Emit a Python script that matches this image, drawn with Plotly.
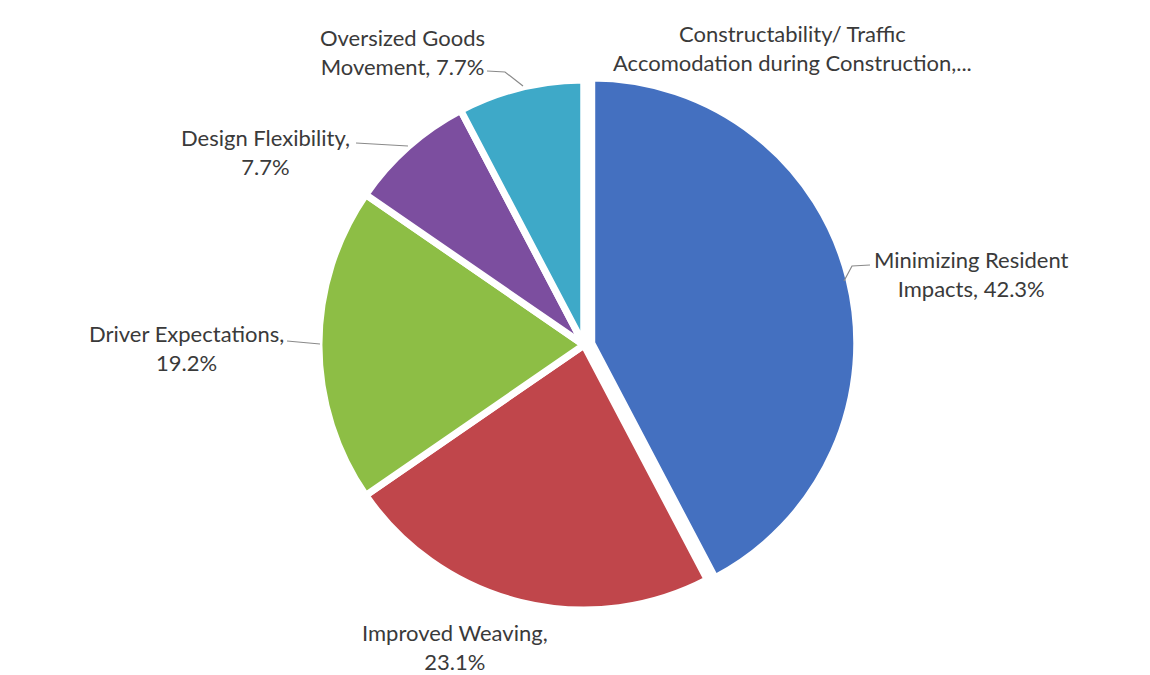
import plotly.graph_objects as go

# Survey categories and their shares (%)
categories = [
    "Minimizing Resident Impacts",
    "Improved Weaving",
    "Driver Expectations",
    "Design Flexibility",
    "Oversized Goods Movement",
    "Constructability/ Traffic Accomodation during Construction",
]
shares = [42.3, 23.1, 19.2, 7.7, 7.7, 0.0]
colors = ["#4470C0", "#C0464B", "#8DBE45", "#7C4E9F", "#3EA9C8", "#F79646"]
pulls = [0.03, 0, 0, 0, 0, 0]

# Label text lines (how each category label wraps)
label_lines = [
    ["Minimizing Resident", "Impacts, {v}"],
    ["Improved Weaving,", "{v}"],
    ["Driver Expectations,", "{v}"],
    ["Design Flexibility,", "{v}"],
    ["Oversized Goods", "Movement, {v}"],
    ["Constructability/ Traffic", "Accomodation during Construction,..."],
]

W, H = 1150, 675

# pie centre and radius in pixels (radius includes pull allowance)
cx, cy, r = 584, 345, 273

fig = go.Figure(
    go.Pie(
        labels=categories,
        values=shares,
        sort=False,
        direction="clockwise",
        rotation=0,
        pull=pulls,
        textinfo="none",
        hoverinfo="label+percent",
        marker=dict(colors=colors, line=dict(color="white", width=7)),
        domain=dict(x=[(cx - r) / W, (cx + r) / W],
                    y=[1 - (cy + r) / H, 1 - (cy - r) / H]),
        showlegend=False,
    )
)

# label anchor positions (pixel centre of the two-line block)
label_pos = [
    (971, 274),
    (455, 647),
    (186, 348),
    (265, 152),
    (402, 52),
    (792, 48),
]
# leader line paths in pixels
leaders = [
    [(844, 281), (852, 266), (870, 265)],
    None,
    [(287, 341), (320, 344)],
    [(356, 143), (408, 146)],
    [(487, 71), (505, 72), (523, 86)],
    None,
]

font = dict(family="Lato, Open Sans, sans-serif", size=22, color="#3a3a3a")

for i, (lines, (px, py)) in enumerate(zip(label_lines, label_pos)):
    txt = "<br>".join(l.format(v=f"{shares[i]:.1f}%") for l in lines)
    fig.add_annotation(
        x=px / W, y=1 - py / H, xref="paper", yref="paper",
        text=txt, showarrow=False, font=font, align="center",
        xanchor="center", yanchor="middle",
    )
    if leaders[i]:
        pts = leaders[i]
        path = "M " + " L ".join(f"{x / W},{1 - y / H}" for x, y in pts)
        fig.add_shape(
            type="path", path=path, xref="paper", yref="paper",
            line=dict(color="#8a8a8a", width=1.2),
        )

fig.update_layout(
    width=W, height=H,
    margin=dict(l=0, r=0, t=0, b=0),
    paper_bgcolor="white",
    plot_bgcolor="white",
)

fig.write_html("out.html")
